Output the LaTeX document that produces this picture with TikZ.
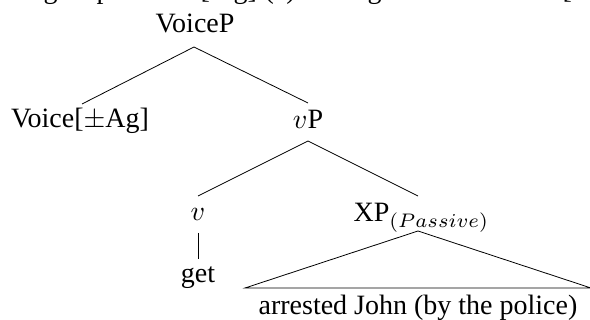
\documentclass[tikz,border=0pt]{standalone}
\usepackage{fontspec}
\setmainfont{Liberation Serif}
\begin{document}
\begin{tikzpicture}[x=1pt,y=-1pt,
  lbl/.style={anchor=base,inner sep=0pt,scale=2.8,font=\fontsize{10}{12}\selectfont},
  frag/.style={lbl,anchor=base west},
  edge/.style={line width=0.8pt}]
\useasboundingbox (0,0) rectangle (590,320);
% clipped line of text above the tree (only its descenders show)
\node[frag] (f1) at (43,-1) {g};
\node[frag] (f2) at (96,-1) {p};
\node[frag] (f3) at (200,-1) {[};
\node[frag] (f4) at (233,-1) {g]};
\node[frag] (f5) at (264,-1) {(a)};
\node[frag] (f6) at (367,-1) {g};
\node[frag] (f7) at (562,-1) {[};
% labels
\node[lbl] (voicep) at (195,33) {VoiceP};
\node[lbl] (voice) at (80,128) {Voice[$\pm$Ag]};
\node[lbl] (vp) at (308,129) {$v$P};
\node[lbl] (v) at (198,221) {$v$};
\node[lbl,anchor=base west] (xp) at (353,222) {XP$_{(Passive)}$};
\node[lbl] (get) at (198,283) {get};
\node[lbl] (arr) at (418,315) {arrested John (by the police)};
% edge end points
\coordinate (voicepB) at (194,47);
\coordinate (voiceT) at (82,104);
\coordinate (vpT) at (308,103);
\coordinate (vpB) at (308,141);
\coordinate (vT) at (198,196);
\coordinate (xpT) at (418,196);
\coordinate (vB) at (198,233);
\coordinate (getT) at (198,259);
\coordinate (triA) at (418,231);
\coordinate (triL) at (245,288);
\coordinate (triR) at (591,288);
\draw[edge] (voiceT) -- (voicepB) -- (vpT);
\draw[edge] (vT) -- (vpB) -- (xpT);
\draw[edge] (vB) -- (getT);
\draw[edge] (triL) -- (triA) -- (triR) -- cycle;
\end{tikzpicture}
\end{document}
